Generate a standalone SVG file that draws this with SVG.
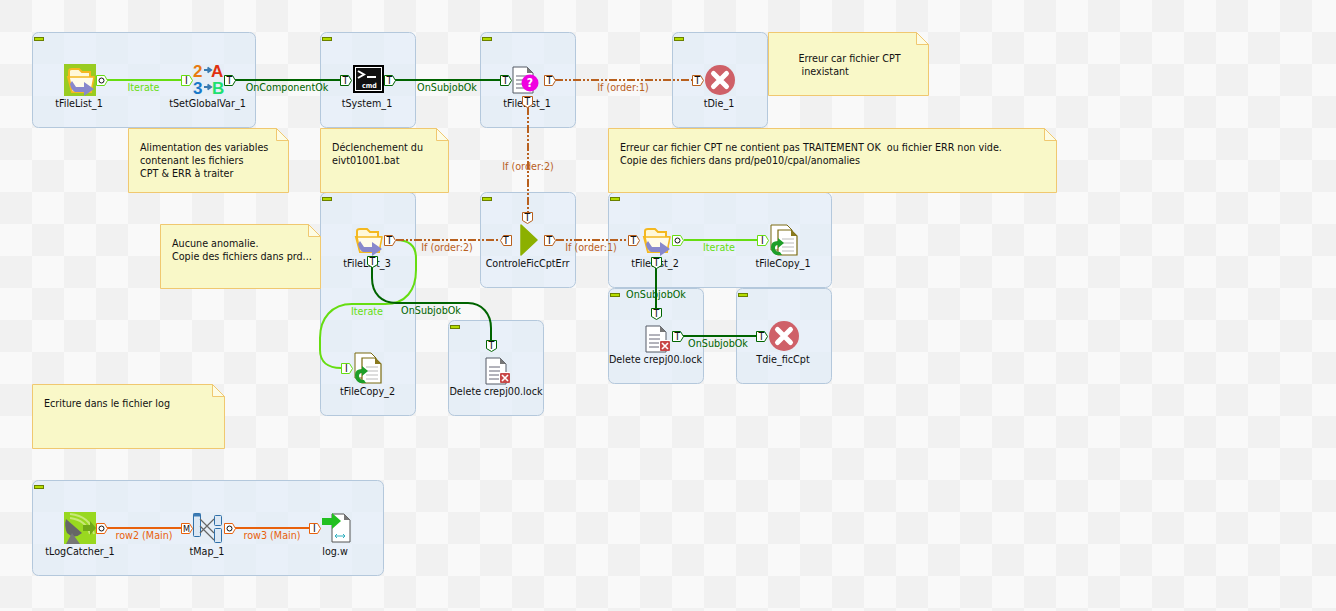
<svg xmlns="http://www.w3.org/2000/svg" width="1336" height="611" viewBox="0 0 1336 611">
<style>
text{font-family:"DejaVu Sans Condensed","DejaVu Sans",sans-serif;font-stretch:condensed;font-size:10.7px;fill:#111;white-space:pre}
.n{text-anchor:middle}
.lb{text-anchor:middle}
.it{fill:#66dd11}.ok{fill:#006400}.if{fill:#b8601e}.mn{fill:#e8610c}
.box{fill:url(#dots);stroke:#b4c8dc;stroke-width:1}
.note{fill:#f9f8c8;stroke:#f0c870;stroke-width:1}
.fold{fill:#fdfce4;stroke:#f0c870;stroke-width:1}
.min{fill:#b4dc00;stroke:#6a8000;stroke-width:1}
.c{fill:none;stroke-width:2}
.cit{stroke:#66dd11}.cok{stroke:#006400}.cif{stroke:#b8601e;stroke-dasharray:8 2 2 2 2 2}.cmn{stroke:#e8610c}
.pt{font-size:10.500px;text-anchor:middle;fill:#111}
.pb{fill:#fff;stroke-width:1}
.ic{font-family:"Liberation Sans",sans-serif;font-size:17px;font-weight:bold}
</style>
<defs>
<pattern id="chk" width="64" height="64" patternUnits="userSpaceOnUse">
<rect width="64" height="64" fill="#f9f9f9"/>
<rect width="32" height="32" fill="#f1f1f1"/>
<rect x="32" y="32" width="32" height="32" fill="#f1f1f1"/>
</pattern>
<pattern id="dots" width="64" height="64" patternUnits="userSpaceOnUse">
<rect width="64" height="64" fill="#e9f0f9"/>
<rect width="32" height="32" fill="#e6eef6"/>
<rect x="32" y="32" width="32" height="32" fill="#e6eef6"/>
</pattern>
<path id="pr" d="M0.5 0.5H8.5L11.5 5.5L8.5 10.5H0.5Z"/>
<path id="pl" d="M3.5 0.5H11.5V10.5H3.5L0.5 5.5Z"/>
<path id="pd" d="M0.5 0.5H10.5V8.5L5.5 11.5L0.5 8.5Z"/>
<g id="folder">
<path d="M5 7Q5 5 8 5H15L18 8H26V13H29L27 28H8L4 13H5Z" fill="#fff8d8" stroke="#f4b820" stroke-width="2"/>
<path d="M5 13H30L27 28H8Z" fill="#fffbe8" stroke="#f4b820" stroke-width="1.5"/>
<path d="M8 17L12 23H20V18L30 25L20 32V28H11Q7 26 6 20Z" fill="#8888cc"/>
</g>
<g id="cross">
<circle cx="16" cy="16" r="15" fill="#cf6068"/>
<path d="M9.5 9.5L22.5 22.5M22.5 9.5L9.5 22.5" stroke="#fff" stroke-width="5" stroke-linecap="round"/>
</g>
<g id="doc">
<path d="M6 3H20L26 9V29H6Z" fill="#fff" stroke="#555a66" stroke-width="1"/>
<path d="M20 3V9H26Z" fill="#777"/>
<path d="M9 12H20M9 16H20M9 20H20M9 24H20" stroke="#667" stroke-width="1"/>
</g>
<g id="copy">
<path d="M3 1H19L24 6V26H3Z" fill="#fff" stroke="#7a6a10" stroke-width="1"/>
<path d="M10 6H23L29 12V31H10Z" fill="#fff" stroke="#7a6a10" stroke-width="1.2"/>
<path d="M23 6V12H29Z" fill="#8a7a20"/>
<path d="M14 15H26M14 19H26M14 23H26M14 27H26" stroke="#bbb" stroke-width="1"/>
<path d="M3 23Q3 17 10 17V14L16 19L10 24V21Q7 21 7 24Q7 28 12 28L14 31H8Q3 29 3 23Z" fill="#1e9e28"/>
</g>
<g id="del">
<use href="#doc"/>
<rect x="19" y="17" width="11" height="11" fill="#fff"/>
<rect x="20" y="18" width="10" height="10" fill="#c84848" rx="1"/>
<path d="M22 20L28 26M28 20L22 26" stroke="#fff" stroke-width="1.6"/>
</g>
</defs>
<rect id="bg" width="1336" height="611" fill="url(#chk)"/>

<g id="subjob_1"><rect class="box" x="32.500" y="32.500" width="223" height="95" rx="6"/><rect class="min" x="34.500" y="37.500" width="9" height="3"/></g>
<g id="subjob_2"><rect class="box" x="320.500" y="32.500" width="95" height="95" rx="6"/><rect class="min" x="322.500" y="37.500" width="9" height="3"/></g>
<g id="subjob_3"><rect class="box" x="480.500" y="32.500" width="95" height="95" rx="6"/><rect class="min" x="482.500" y="37.500" width="9" height="3"/></g>
<g id="subjob_4"><rect class="box" x="672.500" y="32.500" width="95" height="95" rx="6"/><rect class="min" x="674.500" y="37.500" width="9" height="3"/></g>
<g id="subjob_5"><rect class="box" x="320.500" y="192.500" width="95" height="223" rx="6"/><rect class="min" x="322.500" y="197.500" width="9" height="3"/></g>
<g id="subjob_6"><rect class="box" x="480.500" y="192.500" width="95" height="95" rx="6"/><rect class="min" x="482.500" y="197.500" width="9" height="3"/></g>
<g id="subjob_7"><rect class="box" x="608.500" y="192.500" width="223" height="95" rx="6"/><rect class="min" x="610.500" y="197.500" width="9" height="3"/></g>
<g id="subjob_8"><rect class="box" x="608.500" y="288.500" width="95" height="95" rx="6"/><rect class="min" x="610.500" y="293.500" width="9" height="3"/></g>
<g id="subjob_9"><rect class="box" x="736.500" y="288.500" width="95" height="95" rx="6"/><rect class="min" x="738.500" y="293.500" width="9" height="3"/></g>
<g id="subjob_10"><rect class="box" x="448.500" y="320.500" width="95" height="95" rx="6"/><rect class="min" x="450.500" y="325.500" width="9" height="3"/></g>
<g id="subjob_11"><rect class="box" x="32.500" y="480.500" width="351" height="95" rx="6"/><rect class="min" x="34.500" y="485.500" width="9" height="3"/></g>

<g id="note_1"><path class="note" d="M128.500 128.500H276.500L288.500 140.500V192.500H128.500Z"/><path class="fold" d="M276.500 128.500V140.500H288.500Z"/><text x="140" y="151">Alimentation des variables</text><text x="140" y="164">contenant les fichiers</text><text x="140" y="177">CPT &amp; ERR à traiter</text></g>
<g id="note_2"><path class="note" d="M320.500 128.500H436.500L448.500 140.500V192.500H320.500Z"/><path class="fold" d="M436.500 128.500V140.500H448.500Z"/><text x="332" y="151">Déclenchement du</text><text x="332" y="164">eivt01001.bat</text></g>
<g id="note_3"><path class="note" d="M768.500 32.500H916.500L928.500 44.500V95.500H768.500Z"/><path class="fold" d="M916.500 32.500V44.500H928.500Z"/><text x="798.500" y="62">Erreur car fichier CPT</text><text x="801.500" y="75">inexistant</text></g>
<g id="note_4"><path class="note" d="M608.500 128.500H1044.500L1056.500 140.500V192.500H608.500Z"/><path class="fold" d="M1044.500 128.500V140.500H1056.500Z"/><text x="620" y="151">Erreur car fichier CPT ne contient pas TRAITEMENT OK  ou fichier ERR non vide.</text><text x="620" y="164">Copie des fichiers dans prd/pe010/cpal/anomalies</text></g>
<g id="note_5"><path class="note" d="M160.500 224.500H308.500L320.500 236.500V288.500H160.500Z"/><path class="fold" d="M308.500 224.500V236.500H320.500Z"/><text x="172" y="247">Aucune anomalie.</text><text x="172" y="260">Copie des fichiers dans prd...</text></g>
<g id="note_6"><path class="note" d="M32.500 384.500H212.500L224.500 396.500V448.500H32.500Z"/><path class="fold" d="M212.500 384.500V396.500H224.500Z"/><text x="44" y="407">Ecriture dans le fichier log</text></g>

<g id="tFileList_1"><rect x="64" y="64" width="32" height="32" fill="#99cc22"/><use href="#folder" x="64" y="64"/><text class="n" x="79" y="107">tFileList_1</text></g>
<g id="tSetGlobalVar_1">
<text class="ic" x="193" y="77" style="fill:#e87a10">2</text>
<text class="ic" x="193" y="94" style="fill:#1a78c8">3</text>
<text class="ic" x="211" y="77" style="fill:#e03010">A</text>
<text class="ic" x="212" y="94" style="fill:#20e070">B</text>
<path d="M204 70H210M207.500 67.500L211 70L207.500 72.500M204 87H210M207.500 84.500L211 87L207.500 89.500" fill="none" stroke="#3a7ab0" stroke-width="2"/>
<text class="n" x="207.500" y="107">tSetGlobalVar_1</text></g>
<g id="tSystem_1"><rect x="353" y="65" width="31" height="28" fill="#000"/><rect x="355.500" y="67.500" width="26" height="23" fill="#111" stroke="#fff" stroke-width="1"/><path d="M358 71L364 74.500L358 78M367 77H376" fill="none" stroke="#fff" stroke-width="2"/><text x="362" y="88" style="font-size:7px;font-weight:bold;fill:#fff">cmd</text><text class="n" x="367" y="107">tSystem_1</text></g>
<g id="tFileExist_1"><use href="#doc" x="507" y="64"/><circle cx="530" cy="83" r="8.500" fill="#f000e0"/><text x="530" y="87" text-anchor="middle" style="font-size:12px;font-weight:bold;fill:#fff">?</text><text class="n" x="527" y="107">tFileList_1</text></g>
<g id="tDie_1"><use href="#cross" x="704" y="64"/><text class="n" x="719" y="107">tDie_1</text></g>
<g id="tFileList_3"><use href="#folder" x="352" y="224"/><text class="n" x="367" y="267">tFileList_3</text></g>
<g id="ControleFicCptErr"><path d="M521 225L537 240L521 255Z" fill="#8cb000" stroke="#8cb000" stroke-width="1.500" stroke-linejoin="round"/><text class="n" x="527.500" y="267">ControleFicCptErr</text></g>
<g id="tFileList_2"><use href="#folder" x="640" y="224"/><text class="n" x="655" y="267">tFileList_2</text></g>
<g id="tFileCopy_1"><use href="#copy" x="768" y="224"/><text class="n" x="783" y="267">tFileCopy_1</text></g>
<g id="tFileCopy_2"><use href="#copy" x="352" y="352"/><text class="n" x="367.500" y="395">tFileCopy_2</text></g>
<g id="Delete_1"><use href="#del" x="480" y="355"/><text class="n" x="496" y="395">Delete crepj00.lock</text></g>
<g id="Delete_2"><use href="#del" x="640" y="323"/><text class="n" x="655.500" y="363">Delete crepj00.lock</text></g>
<g id="Tdie_ficCpt"><use href="#cross" x="768" y="320"/><text class="n" x="783" y="363">Tdie_ficCpt</text></g>
<g id="tLogCatcher_1"><rect x="64" y="512" width="32" height="32" fill="#99d820"/><path d="M70 514Q90 516 94 534M70 518Q86 520 90 534" fill="none" stroke="#c8e878" stroke-width="2"/><path d="M66 519L82 533Q74 540 67 533Q64 526 66 519Z" fill="#666"/><path d="M72 533L66 544H80Z" fill="#777"/><path d="M83 525H90V521L96 528L90 535V531H83Z" fill="#70a818"/><text class="n" x="80" y="555">tLogCatcher_1</text></g>
<g id="tMap_1"><rect x="193.500" y="513.500" width="7" height="23" rx="1" fill="#dce8f4" stroke="#2f6fa8"/><rect x="193.500" y="513.500" width="7" height="3" fill="#3a7ab4"/><rect x="214.500" y="515.500" width="7" height="10" rx="1" fill="#dce8f4" stroke="#2f6fa8"/><rect x="214.500" y="528.500" width="7" height="14" rx="1" fill="#dce8f4" stroke="#2f6fa8"/><path d="M200 519L214 533M200 533L214 519M200 526L214 540" stroke="#666" stroke-width="1.200" fill="none"/><text class="n" x="207" y="555">tMap_1</text></g>
<g id="log_w"><path d="M332 514H344L350 520V542H332Z" fill="#fff" stroke="#555" stroke-width="1"/><path d="M344 514V520H350Z" fill="#777"/><path d="M322 518H332V513L341 521L332 529V525H322Z" fill="#22c020"/><path d="M335 536H345M335 536L337 534M335 536L337 538M345 536L343 534M345 536L343 538" stroke="#30b0c0" fill="none"/><text class="n" x="335" y="555">log.w</text></g>

<g id="connectors">
<path class="c cit" d="M107 80H181"/>
<path class="c cok" d="M235 80H340"/>
<path class="c cok" d="M395 80H500"/>
<path class="c cif" d="M555 80H692"/>
<path class="c cif" d="M528 107V212"/>
<path class="c cit" d="M396 240C410 240 416 246 416 258V270C416 290 406 304 385 304H352C332 304 320 318 320 338V350C320 362 328 368 341 368"/>
<path class="c cif" d="M396 240H500"/>
<path class="c cok" d="M372 267V278C372 294 382 303 396 303H468C482 303 491 314 491 328V340"/>
<path class="c cif" d="M556 240H628"/>
<path class="c cit" d="M684 240H757"/>
<path class="c cok" d="M656 267V308"/>
<path class="c cok" d="M683 336H756"/>
<path class="c cmn" d="M107 528H181"/>
<path class="c cmn" d="M235 528H309"/>
</g>

<g id="connector_labels">
<text class="lb it" x="143.500" y="91">Iterate</text>
<text class="lb ok" x="287" y="91">OnComponentOk</text>
<text class="lb ok" x="447" y="91">OnSubjobOk</text>
<text class="lb if" x="623" y="91">If (order:1)</text>
<text class="lb if" x="528" y="170">If (order:2)</text>
<text class="lb if" x="447" y="251">If (order:2)</text>
<text class="lb if" x="591" y="251">If (order:1)</text>
<text class="lb it" x="719" y="251">Iterate</text>
<text class="lb it" x="367" y="315">Iterate</text>
<text class="lb ok" x="431" y="314">OnSubjobOk</text>
<text class="lb ok" x="656" y="298">OnSubjobOk</text>
<text class="lb ok" x="718" y="347">OnSubjobOk</text>
<text class="lb mn" x="144" y="539">row2 (Main)</text>
<text class="lb mn" x="272" y="539">row3 (Main)</text>
</g>

<g id="ports">
<g transform="translate(96,75)"><use href="#pr" class="pb" stroke="#66dd11"/><circle cx="5.500" cy="5.500" r="2.500" fill="#fff" stroke="#111"/></g>
<g transform="translate(181,75)"><use href="#pr" class="pb" stroke="#66dd11"/><text class="pt" x="5.500" y="9">I</text></g>
<g transform="translate(224,75)"><use href="#pr" class="pb" stroke="#006400"/><text class="pt" x="5.500" y="9">T</text></g>
<g transform="translate(340,75)"><use href="#pr" class="pb" stroke="#006400"/><text class="pt" x="5.500" y="9">T</text></g>
<g transform="translate(384,75)"><use href="#pr" class="pb" stroke="#006400"/><text class="pt" x="5.500" y="9">T</text></g>
<g transform="translate(500,75)"><use href="#pr" class="pb" stroke="#006400"/><text class="pt" x="5.500" y="9">T</text></g>
<g transform="translate(544,75)"><use href="#pr" class="pb" stroke="#b8601e"/><text class="pt" x="5.500" y="9">T</text></g>
<g transform="translate(522,96)"><use href="#pd" class="pb" stroke="#b8601e"/><text class="pt" x="5.500" y="9">T</text></g>
<g transform="translate(692,75)"><use href="#pr" class="pb" stroke="#b8601e"/><text class="pt" x="5.500" y="9">T</text></g>
<g transform="translate(384,235)"><use href="#pr" class="pb" stroke="#b8601e"/><text class="pt" x="5.500" y="9">T</text></g>
<g transform="translate(367,256)"><use href="#pd" class="pb" stroke="#006400"/><text class="pt" x="5.500" y="9">T</text></g>
<g transform="translate(500,235)"><use href="#pl" class="pb" stroke="#b8601e"/><text class="pt" x="6" y="9">T</text></g>
<g transform="translate(522,212)"><use href="#pd" class="pb" stroke="#b8601e"/><text class="pt" x="5.500" y="9">T</text></g>
<g transform="translate(544,235)"><use href="#pr" class="pb" stroke="#b8601e"/><text class="pt" x="5.500" y="9">T</text></g>
<g transform="translate(628,235)"><use href="#pr" class="pb" stroke="#b8601e"/><text class="pt" x="5.500" y="9">T</text></g>
<g transform="translate(672,235)"><use href="#pr" class="pb" stroke="#66dd11"/><circle cx="5.500" cy="5.500" r="2.500" fill="#fff" stroke="#111"/></g>
<g transform="translate(757,235)"><use href="#pr" class="pb" stroke="#66dd11"/><text class="pt" x="5.500" y="9">I</text></g>
<g transform="translate(651,257)"><use href="#pd" class="pb" stroke="#006400"/><text class="pt" x="5.500" y="9">T</text></g>
<g transform="translate(651,308)"><use href="#pd" class="pb" stroke="#006400"/><text class="pt" x="5.500" y="9">T</text></g>
<g transform="translate(672,331)"><use href="#pr" class="pb" stroke="#006400"/><text class="pt" x="5.500" y="9">T</text></g>
<g transform="translate(756,331)"><use href="#pr" class="pb" stroke="#006400"/><text class="pt" x="5.500" y="9">T</text></g>
<g transform="translate(486,340)"><use href="#pd" class="pb" stroke="#006400"/><text class="pt" x="5.500" y="9">T</text></g>
<g transform="translate(341,363)"><use href="#pr" class="pb" stroke="#66dd11"/><text class="pt" x="5.500" y="9">I</text></g>
<g transform="translate(96,523)"><use href="#pr" class="pb" stroke="#e8610c"/><circle cx="5.500" cy="5.500" r="2.500" fill="#fff" stroke="#111"/></g>
<g transform="translate(181,523)"><use href="#pr" class="pb" stroke="#e8610c"/><text class="pt" x="5.500" y="9" style="font-size:9px">M</text></g>
<g transform="translate(224,523)"><use href="#pr" class="pb" stroke="#e8610c"/><circle cx="5.500" cy="5.500" r="2.500" fill="#fff" stroke="#111"/></g>
<g transform="translate(309,523)"><use href="#pr" class="pb" stroke="#e8610c"/><text class="pt" x="5.500" y="9">I</text></g>
</g>
</svg>
